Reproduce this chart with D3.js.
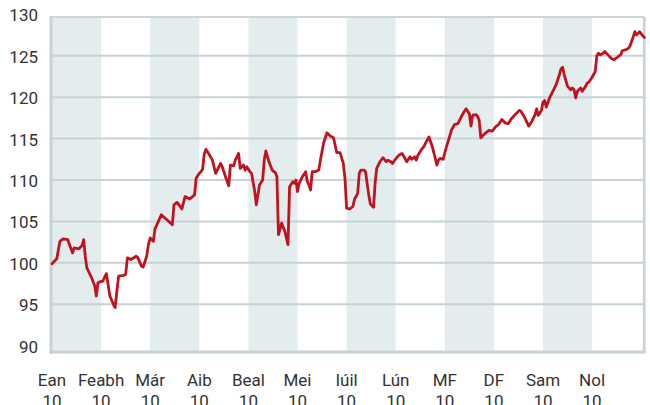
<!DOCTYPE html>
<html>
<head>
<meta charset="utf-8">
<script src="https://cdn.jsdelivr.net/npm/d3@7"></script>
<style>
  html, body { margin: 0; padding: 0; background: #fff; }
  svg { display: block; }
  text { font-family: Roboto, "Noto Sans", sans-serif; fill: #333; }
</style>
</head>
<body>
<svg id="chart" width="650" height="405"></svg>
<script>
// ---- data ----
const monthLabels = ["Ean","Feabh","Már","Aib","Beal","Mei","Iúil","Lún","MF","DF","Sam","Nol"];
const yearLabel = "10";
const yTicks = [90, 95, 100, 105, 110, 115, 120, 125, 130];

const dates = [
 "2010-01-01","2010-01-04","2010-01-06","2010-01-08","2010-01-11","2010-01-12","2010-01-14","2010-01-15","2010-01-18","2010-01-20","2010-01-21","2010-01-22","2010-01-23","2010-01-26","2010-01-28","2010-01-29","2010-01-30","2010-01-31",
 "2010-02-02","2010-02-04","2010-02-06","2010-02-08","2010-02-09","2010-02-10","2010-02-11","2010-02-14","2010-02-15","2010-02-16","2010-02-18","2010-02-21","2010-02-22","2010-02-24","2010-02-25","2010-02-27","2010-02-28",
 "2010-03-01","2010-03-03","2010-03-04","2010-03-05","2010-03-08","2010-03-11","2010-03-15","2010-03-16","2010-03-18","2010-03-21","2010-03-23","2010-03-26","2010-03-29","2010-03-30",
 "2010-04-01","2010-04-02","2010-04-03","2010-04-04","2010-04-05","2010-04-07","2010-04-09","2010-04-11","2010-04-14","2010-04-15","2010-04-17","2010-04-19","2010-04-20","2010-04-22","2010-04-23","2010-04-25","2010-04-26","2010-04-28","2010-04-29","2010-04-30",
 "2010-05-02","2010-05-03","2010-05-05","2010-05-06","2010-05-08","2010-05-10","2010-05-11","2010-05-12","2010-05-14","2010-05-16","2010-05-18","2010-05-19","2010-05-20","2010-05-22","2010-05-23","2010-05-24","2010-05-26","2010-05-27","2010-05-29","2010-05-30","2010-05-31",
 "2010-06-01","2010-06-02","2010-06-04","2010-06-06","2010-06-07","2010-06-08","2010-06-09","2010-06-10","2010-06-12","2010-06-14","2010-06-15","2010-06-17","2010-06-19","2010-06-21","2010-06-23","2010-06-25","2010-06-26","2010-06-27","2010-06-29","2010-06-30",
 "2010-07-01","2010-07-03","2010-07-05","2010-07-06","2010-07-07","2010-07-08","2010-07-09","2010-07-10","2010-07-12","2010-07-13","2010-07-14","2010-07-15","2010-07-16","2010-07-18","2010-07-19","2010-07-20","2010-07-22","2010-07-24","2010-07-26","2010-07-27","2010-07-29","2010-07-30","2010-07-31",
 "2010-08-03","2010-08-05","2010-08-06","2010-08-08","2010-08-10","2010-08-11","2010-08-13","2010-08-14","2010-08-15","2010-08-17","2010-08-19","2010-08-20","2010-08-22","2010-08-24","2010-08-26","2010-08-27","2010-08-28","2010-08-29","2010-08-31",
 "2010-09-01","2010-09-02","2010-09-04","2010-09-05","2010-09-07","2010-09-09","2010-09-11","2010-09-13","2010-09-14","2010-09-16","2010-09-17","2010-09-18","2010-09-20","2010-09-21","2010-09-22","2010-09-23","2010-09-25","2010-09-28","2010-09-30",
 "2010-10-02","2010-10-04","2010-10-06","2010-10-08","2010-10-10","2010-10-12","2010-10-15","2010-10-17","2010-10-18","2010-10-20","2010-10-22","2010-10-23","2010-10-25","2010-10-27","2010-10-28","2010-10-29","2010-10-31",
 "2010-11-01","2010-11-02","2010-11-03","2010-11-05","2010-11-07","2010-11-09","2010-11-11","2010-11-12","2010-11-13","2010-11-14","2010-11-16","2010-11-18","2010-11-19","2010-11-20","2010-11-21","2010-11-22","2010-11-24","2010-11-25","2010-11-27","2010-11-28","2010-11-29",
 "2010-12-01","2010-12-03","2010-12-04","2010-12-05","2010-12-06","2010-12-08","2010-12-09","2010-12-11","2010-12-13","2010-12-15","2010-12-16","2010-12-17","2010-12-18","2010-12-19","2010-12-20","2010-12-22","2010-12-24","2010-12-25","2010-12-27","2010-12-28","2010-12-29","2010-12-30","2010-12-31",
 "2011-01-02","2011-01-03"
];
const values = [
 99.9,100.5,102.6,102.9,102.8,102.2,101.2,101.8,101.7,102.1,102.8,100.8,99.4,98.2,97.2,96.0,97.6,97.7,
 97.8,98.7,96.0,95.0,94.6,96.6,98.4,98.5,98.6,100.6,100.4,100.8,100.6,99.6,99.5,100.8,102.2,
 103.0,102.6,104.1,104.5,105.8,105.3,104.6,107.0,107.3,106.5,108.0,107.7,108.2,110.2,
 110.8,111.0,111.3,113.1,113.7,113.1,112.4,110.8,112.0,111.6,110.4,109.3,111.8,111.7,112.4,113.2,111.4,111.8,111.2,111.6,
 111.0,110.8,108.6,107.0,109.4,110.0,112.4,113.5,112.2,111.2,110.9,110.4,103.4,104.8,104.3,103.8,102.2,109.2,109.8,109.6,110.0,
 108.6,109.6,110.4,111.0,109.8,109.4,108.8,111.0,111.0,111.2,112.4,114.5,115.7,115.3,115.1,113.3,113.3,113.3,112.0,110.2,
 106.6,106.5,106.8,107.7,108.0,108.4,110.8,111.2,111.2,111.0,109.5,108.2,107.1,106.7,109.6,111.4,112.2,112.7,112.2,112.4,112.2,112.0,112.3,
 113.0,113.2,112.9,112.2,112.8,112.5,112.8,112.4,113.0,113.6,114.1,114.5,115.2,114.1,112.6,111.8,112.4,112.6,112.5,
 113.3,114.0,115.3,116.0,116.7,116.8,117.6,118.3,118.6,118.0,116.5,117.8,117.9,117.7,117.2,115.1,115.5,116.0,115.9,
 116.4,116.7,117.3,116.9,116.8,117.4,118.0,118.4,118.3,117.7,116.9,116.5,117.1,117.9,118.6,117.8,118.4,
 119.4,119.6,118.8,119.9,120.7,121.5,122.7,123.4,123.6,122.7,121.3,120.9,121.1,120.9,119.9,120.7,121.1,120.7,121.3,121.7,121.8,
 122.4,123.1,125.0,125.3,125.1,125.3,125.5,125.1,124.7,124.5,124.7,124.8,125.0,125.1,125.6,125.7,125.9,126.2,127.3,127.9,127.5,127.7,127.9,
 127.4,127.2
];

// ---- chart ----
const svg = d3.select("#chart");
const frame = { left: 51, right: 644.3, top: 17, bottom: 352 };

const parse = d3.utcParse("%Y-%m-%d");
const origin = parse("2010-01-01");
// position in "month units": each month gets equal width
function monthPos(d) {
  const m0 = d3.utcMonth.floor(d);
  const m1 = d3.utcMonth.offset(m0, 1);
  return d3.utcMonth.count(origin, m0) + (d - m0) / (m1 - m0);
}

const x = d3.scaleLinear().domain([0, 12]).range([52, 641.2]);
const y = d3.scaleLinear().domain([90, 130]).range([345.7, 14.3]);

const data = dates.map((s, i) => ({ t: monthPos(parse(s)), v: values[i] }));

// alternating month bands
svg.append("g").selectAll("rect")
  .data(d3.range(0, 12, 2))
  .join("rect")
  .attr("x", d => x(d))
  .attr("width", d => x(d + 1) - x(d))
  .attr("y", frame.top)
  .attr("height", frame.bottom - frame.top)
  .attr("fill", "#e4eded");

// horizontal gridlines
svg.append("g").selectAll("line")
  .data(yTicks.filter(v => v > 90 && v < 130))
  .join("line")
  .attr("x1", frame.left).attr("x2", frame.right)
  .attr("y1", d => y(d)).attr("y2", d => y(d))
  .attr("stroke", "#c6d3d4").attr("stroke-width", 2);

// frame
svg.append("line").attr("x1", frame.left).attr("x2", frame.right)
  .attr("y1", frame.top).attr("y2", frame.top)
  .attr("stroke", "#cbd6d7").attr("stroke-width", 2);
svg.append("line").attr("x1", frame.right).attr("x2", frame.right)
  .attr("y1", frame.top).attr("y2", frame.bottom)
  .attr("stroke", "#c6d3d4").attr("stroke-width", 2.6);
svg.append("line").attr("x1", frame.left).attr("x2", frame.left)
  .attr("y1", frame.top - 1).attr("y2", frame.bottom + 1.5)
  .attr("stroke", "#c6d3d4").attr("stroke-width", 3);
svg.append("line").attr("x1", frame.left - 1.5).attr("x2", frame.right + 1.3)
  .attr("y1", frame.bottom).attr("y2", frame.bottom)
  .attr("stroke", "#c6d3d4").attr("stroke-width", 3);

// y axis labels
const yAxis = d3.axisLeft(y).tickValues(yTicks).tickSize(0).tickPadding(13).tickFormat(d3.format("d"));
const gy = svg.append("g").attr("transform", "translate(51,1)").call(yAxis);
gy.select(".domain").remove();
gy.selectAll("text").attr("font-size", 17).attr("font-family", "Roboto, sans-serif").attr("fill", "#333");

// x labels (two lines)
const xl = svg.append("g").selectAll("text")
  .data(monthLabels)
  .join("text")
  .attr("x", (d, i) => x(i))
  .attr("y", 386)
  .attr("text-anchor", "middle")
  .attr("font-size", 17);
xl.append("tspan").attr("x", (d, i) => x(i)).text(d => d);
xl.append("tspan").attr("x", (d, i) => x(i)).attr("dy", 21).text(yearLabel);

// line
const line = d3.line().x(d => x(d.t)).y(d => y(d.v)).curve(d3.curveLinear);
svg.append("path")
  .datum(data)
  .attr("d", line)
  .attr("fill", "none")
  .attr("stroke", "#c0131f")
  .attr("stroke-width", 2.8)
  .attr("stroke-linejoin", "round")
  .attr("stroke-linecap", "round");
</script>
</body>
</html>
